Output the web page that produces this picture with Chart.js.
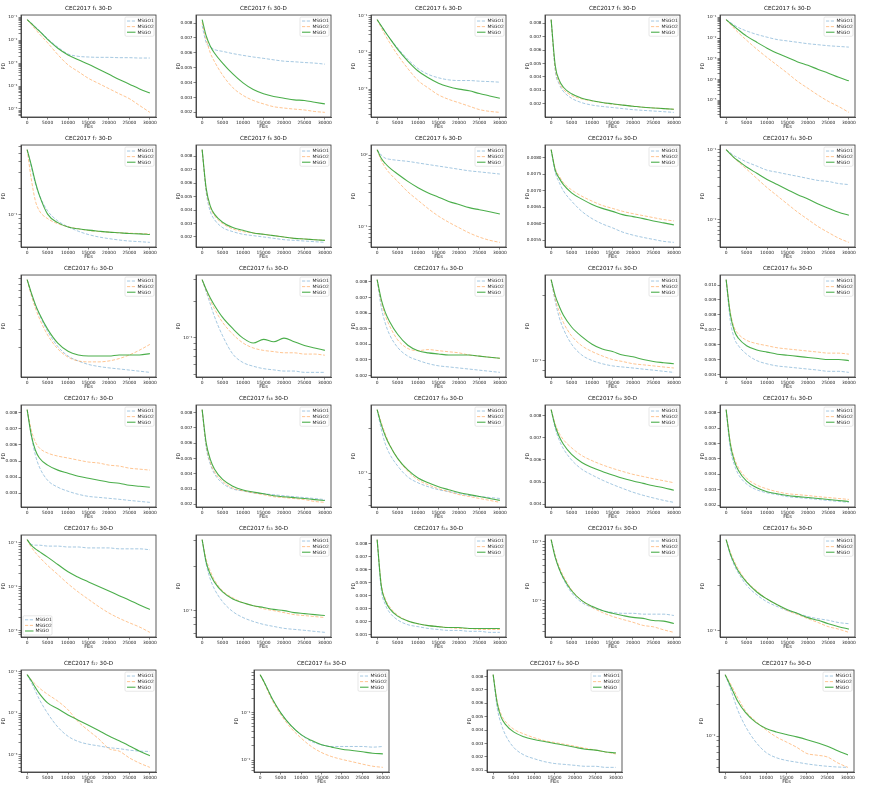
<!DOCTYPE html>
<html>
<head>
<meta charset="utf-8">
<script src="https://cdn.jsdelivr.net/npm/chart.js@4.4.0/dist/chart.umd.min.js"></script>
<style>
body { margin: 0; background: #fff; }
#grid { position: relative; width: 872px; height: 785px; }
#grid canvas { position: absolute; }
</style>
</head>
<body>
<div id="grid"></div>
<script>
// FEs where the curves were sampled
const fes = [0, 1000, 2000, 3000, 5000, 7500, 10000, 12500, 15000, 17500, 20000, 22500, 25000, 27500, 30000];
const funcs = [1, 3, 4, 5, 6, 7, 8, 9, 10, 11, 12, 13, 14, 15, 16, 17, 18, 19, 20, 21, 22, 23, 24, 25, 26, 27, 28, 29, 30];
const seriesNames = ['MSGO1', 'MSGO2', 'MSGO'];
const xTicks = [0, 5000, 10000, 15000, 20000, 25000, 30000];
const logScale = [true, false, true, false, true, true, false, true, false, true, true, true, false, true, false,
                  false, false, true, false, false, true, true, false, true, true, true, true, false, true];
const yStep = [0, 0.001, 0, 0.001, 0, 0, 0.001, 0, 0.0005, 0, 0, 0, 0.001, 0, 0.001,
               0.001, 0.001, 0, 0.001, 0.001, 0, 0, 0.001, 0, 0, 0, 0, 0.001, 0];
const legendCorner = funcs.map(f => f === 22 ? 'sw' : 'ne');

const msgo1 = [
  [7.9e-2,5.6e-2,3.85e-2,2.64e-2,1.17e-2,4.97e-3,2.51e-3,1.98e-3,1.85e-3,1.79e-3,1.79e-3,1.73e-3,1.73e-3,1.67e-3,1.67e-3],
  [0.00782,0.00668,0.0064,0.00622,0.0061,0.00595,0.00583,0.00572,0.00563,0.00553,0.00544,0.0054,0.00535,0.00531,0.00524],
  [7.73e-2,5.26e-2,3.57e-2,2.48e-2,1.31e-2,6.44e-3,3.62e-3,2.51e-3,2.03e-3,1.78e-3,1.71e-3,1.71e-3,1.64e-3,1.6e-3,1.54e-3],
  [0.00826,0.00446,0.00344,0.00292,0.00241,0.00208,0.0019,0.0018,0.00172,0.00164,0.00156,0.00151,0.00146,0.00141,0.00136],
  [7.66e-2,5.65e-2,4.17e-2,3.19e-2,2.18e-2,1.49e-2,1.1e-2,8.43e-3,7.24e-3,6.21e-3,5.33e-3,4.76e-3,4.25e-3,3.94e-3,3.65e-3],
  [0.547,0.352,0.226,0.166,0.111,0.0853,0.0733,0.0653,0.0598,0.0562,0.0538,0.0519,0.0505,0.0497,0.0488],
  [0.0085,0.0053,0.0039,0.0033,0.0027,0.0024,0.0022,0.0021,0.002,0.0019,0.0018,0.00175,0.0017,0.00165,0.0016],
  [1.19,1.0,0.903,0.874,0.844,0.816,0.776,0.737,0.701,0.667,0.633,0.602,0.582,0.562,0.543],
  [0.00825,0.00756,0.00725,0.007,0.00669,0.00638,0.00616,0.006,0.00588,0.00575,0.00566,0.00559,0.00553,0.00547,0.00544],
  [0.1,0.0904,0.0816,0.0763,0.0666,0.0582,0.0508,0.0475,0.0443,0.0415,0.0387,0.0362,0.035,0.0327,0.0316],
  [0.088,0.0647,0.0501,0.0409,0.0286,0.0205,0.0167,0.015,0.0139,0.0133,0.0129,0.0126,0.0123,0.012,0.0117],
  [0.3,0.238,0.189,0.15,0.104,0.0736,0.0627,0.0585,0.0559,0.0546,0.0534,0.0534,0.0521,0.0521,0.0521],
  [0.00814,0.00639,0.00534,0.00464,0.0038,0.00324,0.00297,0.00276,0.00262,0.00255,0.00248,0.00241,0.00234,0.00227,0.0022],
  [0.237,0.188,0.158,0.14,0.119,0.106,0.1,0.0966,0.0944,0.0933,0.0923,0.0912,0.0902,0.0891,0.0881],
  [0.01036,0.00764,0.00643,0.00593,0.00536,0.00493,0.00471,0.00457,0.0045,0.00443,0.00436,0.00429,0.00421,0.00421,0.00414],
  [0.00819,0.00663,0.00538,0.00463,0.00381,0.00338,0.00313,0.00294,0.00281,0.00275,0.00269,0.00263,0.00256,0.0025,0.00244],
  [0.00819,0.00569,0.00463,0.004,0.00338,0.003,0.00288,0.00275,0.00269,0.00263,0.00256,0.0025,0.00244,0.00238,0.00231],
  [0.271,0.2,0.158,0.136,0.112,0.094,0.0858,0.0807,0.077,0.0747,0.0724,0.0703,0.0692,0.0681,0.0671],
  [0.00828,0.00743,0.00689,0.00651,0.006,0.00558,0.00532,0.00509,0.00489,0.00471,0.00454,0.0044,0.00428,0.00417,0.00408],
  [0.00819,0.00569,0.00463,0.004,0.00338,0.003,0.00281,0.00269,0.00256,0.0025,0.00244,0.00238,0.00231,0.00225,0.00219],
  [0.1155,0.0909,0.0866,0.0866,0.0825,0.0825,0.0787,0.0787,0.075,0.075,0.075,0.0715,0.0715,0.0715,0.0681],
  [0.302,0.206,0.163,0.14,0.115,0.0985,0.0898,0.0845,0.0807,0.0782,0.0759,0.0747,0.0736,0.0724,0.0713],
  [0.00829,0.00447,0.00329,0.00271,0.00212,0.00175,0.0016,0.00146,0.00138,0.00131,0.00131,0.00124,0.00124,0.00116,0.00116],
  [0.108,0.0562,0.0341,0.0233,0.0136,0.0093,0.0077,0.0068,0.0063,0.0061,0.0061,0.0059,0.0059,0.0059,0.0056],
  [0.411,0.326,0.275,0.244,0.202,0.174,0.156,0.145,0.136,0.13,0.124,0.12,0.117,0.113,0.111],
  [0.0858,0.0562,0.0348,0.0215,0.01,0.00464,0.00277,0.00207,0.00178,0.00162,0.00147,0.00139,0.00128,0.00121,0.00119],
  [0.632,0.439,0.291,0.193,0.1,0.0535,0.0343,0.0247,0.021,0.0193,0.0193,0.0193,0.0193,0.0187,0.0193],
  [0.00814,0.00564,0.00443,0.00364,0.00271,0.00214,0.00186,0.00164,0.0015,0.00143,0.00136,0.00129,0.00129,0.00121,0.00121],
  [0.0392,0.0311,0.0238,0.0182,0.0124,0.00878,0.00697,0.00621,0.00584,0.00562,0.00541,0.00525,0.00513,0.00505,0.00501]
];

const msgo2 = [
  [7.9e-2,4.89e-2,3.03e-2,1.88e-2,7.74e-3,2.35e-3,8.4e-4,4.26e-4,2.16e-4,1.29e-4,7.7e-5,4.6e-5,2.8e-5,1.41e-5,7.1e-6],
  [0.00805,0.0069,0.00599,0.00542,0.00451,0.00366,0.00314,0.0028,0.00257,0.00238,0.00229,0.00222,0.00216,0.00206,0.002],
  [7.73e-2,4.72e-2,2.88e-2,1.88e-2,8.5e-3,3.62e-3,1.71e-3,1.07e-3,6.95e-4,5.26e-4,4.25e-4,3.43e-4,2.77e-4,2.48e-4,2.33e-4],
  [0.00826,0.00467,0.00359,0.00308,0.00262,0.00236,0.00221,0.00208,0.00197,0.0019,0.00182,0.00174,0.00169,0.00164,0.00159],
  [7.66e-2,4.67e-2,2.85e-2,1.8e-2,7.82e-3,2.9e-3,1.16e-3,4.85e-4,2.02e-4,8.11e-5,3.79e-5,1.77e-5,8.92e-6,5.04e-6,2.64e-6],
  [0.547,0.258,0.145,0.111,0.0907,0.0794,0.0733,0.0695,0.0665,0.0648,0.0637,0.0626,0.062,0.0614,0.0609],
  [0.0085,0.0055,0.0042,0.0036,0.003,0.0026,0.0024,0.0023,0.0022,0.0021,0.002,0.0019,0.00185,0.0018,0.00175],
  [1.19,0.844,0.667,0.562,0.429,0.306,0.233,0.178,0.14,0.115,0.0966,0.0816,0.0713,0.0644,0.0602],
  [0.00825,0.00769,0.00744,0.00725,0.00703,0.00684,0.00669,0.00656,0.00647,0.00638,0.00631,0.00625,0.00619,0.00613,0.00609],
  [0.1,0.0873,0.0763,0.0666,0.0526,0.0387,0.0286,0.0218,0.0166,0.0127,0.01,0.0079,0.0065,0.0054,0.0047],
  [0.088,0.0631,0.0476,0.0378,0.0264,0.0195,0.0163,0.015,0.0147,0.0147,0.015,0.0158,0.0171,0.019,0.0215],
  [0.3,0.244,0.203,0.173,0.134,0.107,0.0907,0.0826,0.0789,0.0771,0.0754,0.0754,0.0736,0.0736,0.072],
  [0.00814,0.00674,0.00583,0.0052,0.00429,0.00373,0.00359,0.00366,0.00359,0.00352,0.00345,0.00331,0.00324,0.00317,0.0031],
  [0.237,0.193,0.168,0.15,0.13,0.117,0.11,0.105,0.101,0.0989,0.0966,0.0955,0.0944,0.0933,0.0923],
  [0.01036,0.00821,0.00714,0.00671,0.00629,0.00607,0.00593,0.00579,0.00571,0.00564,0.00557,0.0055,0.00543,0.00543,0.00536],
  [0.00819,0.00694,0.00619,0.00581,0.0055,0.00531,0.00519,0.00506,0.00494,0.00488,0.00475,0.00469,0.00456,0.0045,0.00444],
  [0.00819,0.00588,0.00475,0.00413,0.0035,0.00306,0.00288,0.00275,0.00263,0.0025,0.00244,0.00238,0.00231,0.00219,0.00213],
  [0.271,0.222,0.185,0.158,0.126,0.103,0.0898,0.0832,0.0782,0.0747,0.0713,0.0692,0.0671,0.0651,0.0631],
  [0.00828,0.00763,0.0072,0.00692,0.00655,0.0062,0.00597,0.00578,0.00562,0.00548,0.00535,0.00525,0.00515,0.00506,0.00497],
  [0.00819,0.00613,0.00506,0.00444,0.00375,0.00331,0.00306,0.00288,0.00275,0.00269,0.00263,0.00256,0.0025,0.00244,0.00238],
  [0.1155,0.0787,0.059,0.0464,0.0301,0.0187,0.0115,0.0075,0.0051,0.0035,0.0025,0.0019,0.0015,0.0012,0.00091],
  [0.302,0.222,0.185,0.161,0.136,0.122,0.113,0.108,0.103,0.1,0.097,0.094,0.0926,0.0912,0.0898],
  [0.00829,0.00491,0.00374,0.00315,0.00249,0.00204,0.00182,0.00168,0.0016,0.00153,0.00146,0.00146,0.00138,0.00138,0.00138],
  [0.108,0.0585,0.0369,0.0261,0.0153,0.01,0.0077,0.0063,0.0054,0.0048,0.0043,0.0038,0.0036,0.0032,0.0029],
  [0.411,0.341,0.293,0.259,0.215,0.185,0.163,0.149,0.136,0.128,0.12,0.113,0.106,0.102,0.097],
  [0.0858,0.0643,0.0511,0.0406,0.0287,0.0196,0.0121,0.0062,0.0038,0.0024,0.00139,0.00121,0.00083,0.00062,0.00049],
  [0.632,0.425,0.268,0.178,0.092,0.0477,0.0291,0.0193,0.0144,0.0118,0.0103,0.0092,0.0082,0.0074,0.007],
  [0.00814,0.00614,0.00514,0.00464,0.00407,0.00371,0.00343,0.00321,0.00307,0.00293,0.00279,0.00264,0.0025,0.00236,0.00221],
  [0.0392,0.0336,0.0284,0.0238,0.0175,0.0139,0.0115,0.00985,0.00878,0.00782,0.00681,0.00656,0.00631,0.00554,0.00501]
];

const msgo = [
  [7.9e-2,5.41e-2,3.6e-2,2.47e-2,1.09e-2,4.48e-3,2.27e-3,1.41e-3,9.0e-4,5.4e-4,3.25e-4,1.95e-4,1.21e-4,7.5e-5,4.97e-5],
  [0.00823,0.00713,0.00645,0.00599,0.00531,0.00458,0.00398,0.00353,0.00325,0.00307,0.00295,0.00284,0.0028,0.00268,0.00257],
  [7.73e-2,5.26e-2,3.57e-2,2.48e-2,1.22e-2,5.79e-3,3.11e-3,2.03e-3,1.44e-3,1.16e-3,1.0e-3,8.98e-4,7.56e-4,6.52e-4,5.61e-4],
  [0.00826,0.00485,0.00374,0.00323,0.00274,0.00241,0.00223,0.0021,0.002,0.0019,0.00182,0.00174,0.00169,0.00164,0.00159],
  [7.66e-2,5.24e-2,3.58e-2,2.45e-2,1.23e-2,6.21e-3,3.25e-3,1.84e-3,1.16e-3,7.1e-4,4.85e-4,3.08e-4,2.02e-4,1.28e-4,8.75e-5],
  [0.547,0.367,0.236,0.166,0.102,0.0816,0.0727,0.0695,0.0671,0.0653,0.0637,0.0626,0.0614,0.0609,0.0598],
  [0.0085,0.0056,0.0043,0.0037,0.0031,0.0027,0.0025,0.0023,0.0022,0.0021,0.002,0.0019,0.00185,0.0018,0.00175],
  [1.19,0.903,0.762,0.667,0.543,0.429,0.35,0.296,0.258,0.225,0.204,0.184,0.172,0.161,0.15],
  [0.00825,0.00763,0.00738,0.00719,0.00694,0.00675,0.00659,0.00647,0.00638,0.00628,0.00622,0.00616,0.00609,0.00603,0.00597],
  [0.1,0.0873,0.0763,0.0689,0.0563,0.0459,0.0375,0.0316,0.0267,0.0226,0.0197,0.0166,0.0145,0.0127,0.0115],
  [0.088,0.0664,0.0514,0.0419,0.03,0.0221,0.0185,0.0171,0.0167,0.0167,0.0167,0.0171,0.0171,0.0171,0.0176],
  [0.3,0.249,0.212,0.185,0.147,0.119,0.0995,0.0907,0.0972,0.0929,0.0995,0.0929,0.0866,0.0826,0.0789],
  [0.00814,0.00688,0.00604,0.00548,0.00464,0.00394,0.00359,0.00345,0.00338,0.00331,0.00331,0.00331,0.00324,0.00317,0.0031],
  [0.237,0.2,0.178,0.162,0.143,0.129,0.119,0.113,0.11,0.106,0.104,0.101,0.0989,0.0977,0.0966],
  [0.01036,0.00807,0.00693,0.00643,0.00593,0.00564,0.0055,0.00536,0.00529,0.00521,0.00514,0.00507,0.005,0.005,0.00493],
  [0.00819,0.00663,0.00569,0.00519,0.00475,0.00444,0.00425,0.00406,0.00394,0.00381,0.00369,0.00363,0.0035,0.00344,0.00338],
  [0.00819,0.006,0.00494,0.00431,0.00363,0.00319,0.00294,0.00281,0.00269,0.00256,0.0025,0.00244,0.00238,0.00231,0.00225],
  [0.271,0.215,0.179,0.156,0.126,0.105,0.0926,0.0858,0.0807,0.077,0.0736,0.0713,0.0692,0.0671,0.0651],
  [0.00828,0.00754,0.00705,0.00671,0.00625,0.00589,0.00566,0.00548,0.00532,0.00517,0.00505,0.00494,0.00483,0.00474,0.00463],
  [0.00819,0.006,0.00488,0.00425,0.00356,0.00313,0.00288,0.00275,0.00263,0.00256,0.0025,0.00244,0.00238,0.00231,0.00225],
  [0.1155,0.0866,0.0715,0.0619,0.0464,0.0316,0.0215,0.0162,0.0127,0.01,0.0079,0.0062,0.0049,0.0038,0.003],
  [0.302,0.212,0.176,0.156,0.134,0.12,0.113,0.108,0.105,0.102,0.1,0.097,0.0955,0.094,0.0926],
  [0.00829,0.00476,0.00359,0.003,0.00241,0.00204,0.00182,0.00168,0.0016,0.00153,0.00153,0.00146,0.00146,0.00146,0.00146],
  [0.108,0.0541,0.0341,0.0242,0.0147,0.01,0.008,0.0068,0.0061,0.0056,0.0052,0.005,0.0046,0.0045,0.0041],
  [0.411,0.331,0.284,0.251,0.212,0.182,0.163,0.149,0.138,0.13,0.122,0.117,0.111,0.106,0.102],
  [0.0858,0.0619,0.0422,0.0298,0.0178,0.0128,0.0091,0.0068,0.0051,0.0038,0.0028,0.00215,0.00162,0.00121,0.00094],
  [0.632,0.439,0.291,0.193,0.1,0.0535,0.0343,0.026,0.021,0.0187,0.0169,0.0159,0.0149,0.0139,0.0135],
  [0.00814,0.006,0.00493,0.00443,0.00386,0.0035,0.00329,0.00314,0.003,0.00286,0.00271,0.00257,0.0025,0.00236,0.00229],
  [0.0392,0.0324,0.0267,0.022,0.0169,0.0136,0.0119,0.011,0.0104,0.00985,0.00926,0.00864,0.008,0.00724,0.00661]
];

const colors = ['rgba(31,119,180,0.45)', 'rgba(255,127,14,0.5)', 'rgba(44,160,44,0.85)'];
const dashes = [[3.2, 1.6], [3.2, 1.6], []];

Chart.defaults.font.family = '"DejaVu Sans", sans-serif';
Chart.defaults.color = '#222';

const SUP = { '0': '⁰', '1': '¹', '2': '²', '3': '³', '4': '⁴', '5': '⁵', '6': '⁶', '7': '⁷', '8': '⁸', '9': '⁹', '-': '⁻' };
const SUB = { '0': '₀', '1': '₁', '2': '₂', '3': '₃', '4': '₄', '5': '₅', '6': '₆', '7': '₇', '8': '₈', '9': '₉' };
const toSup = s => String(s).split('').map(c => SUP[c]).join('');
const toSub = s => String(s).split('').map(c => SUB[c]).join('');

// box round the plot area, like matplotlib spines
const frame = {
  id: 'frame',
  afterDraw(chart) {
    const a = chart.chartArea, ctx = chart.ctx;
    ctx.save();
    ctx.strokeStyle = '#333';
    ctx.lineWidth = 0.8;
    ctx.strokeRect(a.left, a.top, a.right - a.left, a.bottom - a.top);
    ctx.restore();
  }
};

// small legend drawn inside the axes
const boxLegend = {
  id: 'boxLegend',
  afterDatasetsDraw(chart, args, opts) {
    const a = chart.chartArea, ctx = chart.ctx;
    const rowH = 5.6, w = 29, h = rowH * 3 + 2.4;
    const x = opts.corner === 'sw' ? a.left + 2 : a.right - w - 2;
    const y = opts.corner === 'sw' ? a.bottom - h - 2 : a.top + 2;
    ctx.save();
    ctx.fillStyle = 'rgba(255,255,255,0.85)';
    ctx.strokeStyle = '#d6d6d6';
    ctx.lineWidth = 0.6;
    ctx.beginPath();
    ctx.roundRect(x, y, w, h, 1.2);
    ctx.fill();
    ctx.stroke();
    ctx.font = '4.4px "DejaVu Sans"';
    ctx.textBaseline = 'middle';
    chart.data.datasets.forEach((ds, k) => {
      const cy = y + 1.2 + rowH * (k + 0.5);
      ctx.strokeStyle = ds.borderColor;
      ctx.lineWidth = ds.borderWidth;
      ctx.setLineDash(ds.borderDash);
      ctx.beginPath();
      ctx.moveTo(x + 2, cy);
      ctx.lineTo(x + 10.5, cy);
      ctx.stroke();
      ctx.setLineDash([]);
      ctx.fillStyle = '#222';
      ctx.fillText(ds.label, x + 12.5, cy + 0.2);
    });
    ctx.restore();
  }
};

function yRange(i) {
  const all = msgo1[i].concat(msgo2[i], msgo[i]);
  let lo = Math.min(...all), hi = Math.max(...all);
  if (logScale[i]) {
    lo = Math.log10(lo); hi = Math.log10(hi);
    const p = (hi - lo) * 0.05;
    return [Math.pow(10, lo - p), Math.pow(10, hi + p)];
  }
  const p = (hi - lo) * 0.05;
  return [lo - p, hi + p];
}

const grid = document.getElementById('grid');
const left5 = [0, 175, 350, 524, 699];
const left4 = [0, 233, 466, 698];

funcs.forEach((f, i) => {
  const row = Math.floor(i / 5), col = i % 5;
  const canvas = document.createElement('canvas');
  canvas.width = 174;
  canvas.height = 130;
  canvas.style.left = (row < 5 ? left5[col] : left4[col]) + 'px';
  canvas.style.top = (row < 5 ? row * 130 : 655) + 'px';
  grid.appendChild(canvas);

  const [ymin, ymax] = yRange(i);
  const series = [msgo1[i], msgo2[i], msgo[i]];
  const decimals = yStep[i] === 0.0005 ? 4 : 3;

  new Chart(canvas.getContext('2d'), {
    type: 'line',
    data: {
      datasets: series.map((vals, k) => ({
        label: seriesNames[k],
        data: fes.map((x, j) => ({ x: x, y: vals[j] })),
        borderColor: colors[k],
        borderWidth: k === 2 ? 1.1 : 0.9,
        borderDash: dashes[k],
        pointRadius: 0,
        cubicInterpolationMode: 'monotone',
        order: 2 - k
      }))
    },
    options: {
      responsive: false,
      animation: false,
      events: [],
      layout: { padding: { left: 0, right: 18, top: 0, bottom: 0 } },
      plugins: {
        legend: { display: false },
        tooltip: { enabled: false },
        title: {
          display: true,
          fullSize: false,
          text: 'CEC2017 f' + toSub(f) + ' 30-D',
          font: { size: 5.6, weight: 'normal' },
          color: '#111',
          padding: { top: 5, bottom: 3.3 }
        },
        boxLegend: { corner: legendCorner[i] }
      },
      scales: {
        x: {
          type: 'linear',
          min: -1500,
          max: 31500,
          afterFit: s => { s.height = 13; },
          afterBuildTicks: s => { s.ticks = xTicks.map(v => ({ value: v })); },
          ticks: {
            font: { size: 4.4 },
            color: '#222',
            padding: 1,
            maxRotation: 0,
            autoSkip: false,
            callback: v => String(v)
          },
          grid: { drawOnChartArea: false, drawTicks: true, tickLength: 2.5, tickColor: '#333', tickWidth: 0.6 },
          border: { display: true, color: '#333', width: 0.8 },
          title: { display: true, text: 'FEs', font: { size: 5 }, color: '#222', padding: { top: 0, bottom: 0.5 } }
        },
        y: {
          type: logScale[i] ? 'logarithmic' : 'linear',
          min: ymin,
          max: ymax,
          afterFit: s => { s.width = 21; },
          afterBuildTicks: s => {
            if (!logScale[i]) return;
            const ticks = [];
            for (let e = Math.floor(Math.log10(s.min)); e <= Math.ceil(Math.log10(s.max)); e++) {
              for (let k = 1; k < 10; k++) {
                const v = k * Math.pow(10, e);
                if (v >= s.min && v <= s.max) ticks.push({ value: v, major: k === 1 });
              }
            }
            s.ticks = ticks;
          },
          ticks: {
            font: { size: 4.2 },
            color: '#222',
            padding: 1,
            autoSkip: false,
            includeBounds: false,
            stepSize: yStep[i] || undefined,
            callback: function (v, idx, ticks) {
              if (logScale[i]) {
                return ticks[idx].major ? '10' + toSup(Math.round(Math.log10(v))) : '';
              }
              return Number(v).toFixed(decimals);
            }
          },
          grid: { drawOnChartArea: false, drawTicks: true, tickLength: 2.5, tickColor: '#333', tickWidth: 0.6 },
          border: { display: true, color: '#333', width: 0.8 },
          title: { display: true, text: 'PD', font: { size: 5 }, color: '#222', padding: { top: 1, bottom: 0 } }
        }
      }
    },
    plugins: [frame, boxLegend]
  });
});
</script>
</body>
</html>
